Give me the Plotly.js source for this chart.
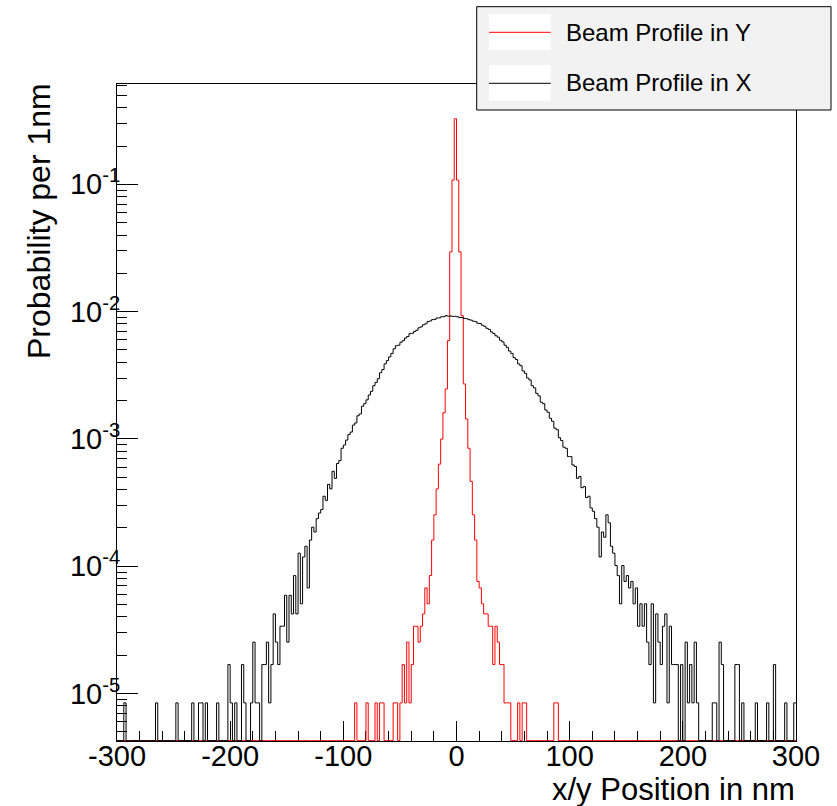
<!DOCTYPE html>
<html>
<head>
<meta charset="utf-8">
<script src="https://cdn.plot.ly/plotly-3.0.1.min.js"></script>
<style>
html,body{margin:0;padding:0;background:#ffffff;}
#chart{width:837px;height:806px;}
</style>
</head>
<body>
<div id="chart"></div>
<script>
// ---------- data ----------
const binLowEdge = -300;   // nm, left edge of the first bin
const binHighEdge = 300;   // nm
const binWidth = 2;        // nm
// counts per 2 nm bin, "Beam Profile in X" (black), from -300 to 300
const xProfileCounts = [
  0,0,0,1,0,0,0,0,0,0,
  0,0,0,0,0,0,0,1,0,0,
  0,0,0,0,0,0,1,0,0,0,
  0,0,0,1,0,0,1,1,0,1,
  0,0,0,0,1,0,0,0,0,2,
  1,0,1,0,0,2,1,0,0,1,
  3,1,1,0,2,2,3,1,2,5,
  3,2,4,4,7,3,7,5,10,5,
  15,6,14,17,8,19,24,22,28,31,
  33,42,39,52,48,66,58,76,80,100,
  106,116,128,134,152,158,180,186,214,224,
  240,262,280,310,329,352,392,415,460,488,
  522,556,604,639,645,680,700,735,755,795,
  800,826,845,884,900,935,950,990,1000,1025,
  1030,1055,1058,1080,1080,1102,1090,1095,1086,1088,
  1078,1062,1064,1046,1044,1024,1015,996,988,960,
  955,925,908,876,858,820,798,765,745,705,
  684,645,620,580,556,515,498,460,445,405,
  388,356,344,310,298,270,258,230,224,200,
  192,172,163,144,140,121,115,102,100,86,
  86,74,72,58,60,49,50,41,42,34,
  32,28,24,14,22,20,30,26,17,15,
  12,10,6,12,9,10,8,9,6,8,
  4,6,4,6,3,2,6,1,5,3,
  2,4,5,1,4,2,2,2,0,2,
  0,3,1,2,1,3,1,0,0,0,
  0,0,0,1,1,0,3,2,0,0,
  0,0,0,2,2,0,1,0,0,0,
  0,0,1,0,0,0,0,1,0,0,
  2,0,0,0,0,1,0,0,0,1
];
// counts per 2 nm bin, "Beam Profile in Y" (red), from -92 to 92 (zero elsewhere)
const yProfileLowEdge = -92;
const yProfileCounts = [
  0,1,0,0,0,0,1,0,0,0,
  1,0,1,1,0,0,0,0,1,1,
  0,1,2,1,3,1,2,4,4,3,
  4,5,8,6,10,19,30,48,75,118,
  190,292,700,3490,12780,38700,12780,3490,1100,320,
  170,100,55,30,19,9,8,6,5,5,
  4,4,2,4,3,2,2,1,1,1,
  0,0,0,1,0,1,1,0,0,0,
  0,0,0,0,0,0,0,0,0,1,
  1,0
];
const probabilityPerCount = 8.45e-6;
const seriesNames = ['Beam Profile in Y', 'Beam Profile in X'];
const seriesColors = ['#ff0000', '#000000'];
const xTickVals = [-300, -200, -100, 0, 100, 200, 300];
const xTickText = ['-300', '-200', '-100', '0', '100', '200', '300'];
const yTickVals = [1e-5, 1e-4, 1e-3, 1e-2, 1e-1];
const yTickText = ['10<sup>-5</sup>', '10<sup>-4</sup>', '10<sup>-3</sup>', '10<sup>-2</sup>', '10<sup>-1</sup>'];
const xTitle = 'x/y Position in nm';
const yTitle = 'Probability per 1nm';

// ---------- layout constants ----------
const W = 837, H = 806;
const M = {l: 117, r: 41, t: 84, b: 65};
const PW = W - M.l - M.r, PH = H - M.t - M.b;
const yLogRange = [-5.3725, -0.2118];
const FONT = '"Liberation Sans", Arial, Helvetica, sans-serif';
const floorVal = Math.pow(10, yLogRange[0] + 0.003);   // empty bins drawn on the frame bottom
const px = v => (v - M.l) / PW;            // pixel x -> paper
const py = v => (H - M.b - v) / PH;        // pixel y -> paper

function fullBins(counts, lowEdge) {
  const n = Math.round((binHighEdge - binLowEdge) / binWidth);
  const offset = Math.round((lowEdge - binLowEdge) / binWidth);
  const out = new Array(n).fill(0);
  counts.forEach((c, i) => { if (offset + i >= 0 && offset + i < n) out[offset + i] = c; });
  return out;
}

function stepTrace(counts, name, color) {
  const xs = [], ys = [];
  for (let i = 0; i < counts.length; i++) {
    xs.push(binLowEdge + i * binWidth);
    ys.push(counts[i] > 0 ? counts[i] * probabilityPerCount : floorVal);
  }
  xs.push(binLowEdge + counts.length * binWidth);
  ys.push(ys[ys.length - 1]);
  return {
    type: 'scatter', mode: 'lines', name: name, x: xs, y: ys,
    line: {shape: 'hv', color: color, width: 1}, hoverinfo: 'skip', showlegend: false
  };
}

const traces = [
  stepTrace(fullBins(yProfileCounts, yProfileLowEdge), seriesNames[0], seriesColors[0]),
  stepTrace(fullBins(xProfileCounts, binLowEdge), seriesNames[1], seriesColors[1])
];

const minorY = [];
for (let e = -6; e <= 0; e++) for (let m = 2; m <= 9; m++) {
  const v = m * Math.pow(10, e);
  const lv = Math.log10(v);
  if (lv > yLogRange[0] && lv < yLogRange[1]) minorY.push(v);
}

const shapes = [
  {type: 'rect', xref: 'paper', yref: 'paper', x0: px(476.7), x1: px(831), y0: py(110), y1: py(6.7),
   fillcolor: '#f2f2f2', line: {color: '#000', width: 1}, layer: 'above'},
  {type: 'rect', xref: 'paper', yref: 'paper', x0: px(489), x1: px(550.7), y0: py(50), y1: py(14),
   fillcolor: '#ffffff', line: {width: 0}, layer: 'above'},
  {type: 'rect', xref: 'paper', yref: 'paper', x0: px(489), x1: px(550.7), y0: py(100.7), y1: py(65),
   fillcolor: '#ffffff', line: {width: 0}, layer: 'above'},
  {type: 'line', xref: 'paper', yref: 'paper', x0: px(489), x1: px(550.7), y0: py(32.3), y1: py(32.3),
   line: {color: seriesColors[0], width: 1}, layer: 'above'},
  {type: 'line', xref: 'paper', yref: 'paper', x0: px(489), x1: px(550.7), y0: py(83.3), y1: py(83.3),
   line: {color: seriesColors[1], width: 1}, layer: 'above'}
];

const annotations = [
  {text: seriesNames[0], xref: 'paper', yref: 'paper', x: px(564), y: py(32), xanchor: 'left', yanchor: 'middle',
   showarrow: false, font: {family: FONT, size: 24, color: '#000'}},
  {text: seriesNames[1], xref: 'paper', yref: 'paper', x: px(564), y: py(83), xanchor: 'left', yanchor: 'middle',
   showarrow: false, font: {family: FONT, size: 24, color: '#000'}},
  {text: xTitle, xref: 'paper', yref: 'paper', x: px(797), y: py(789), xanchor: 'right', yanchor: 'middle',
   showarrow: false, font: {family: FONT, size: 31, color: '#000'}},
  {text: yTitle, xref: 'paper', yref: 'paper', x: px(39), y: py(81), xanchor: 'center', yanchor: 'top', textangle: -90,
   showarrow: false, font: {family: FONT, size: 32, color: '#000'}}
];

const layout = {
  width: W, height: H, margin: M,
  paper_bgcolor: '#ffffff', plot_bgcolor: '#ffffff',
  font: {family: FONT, color: '#000'},
  showlegend: false,
  xaxis: {
    range: [binLowEdge, binHighEdge], tickmode: 'array', tickvals: xTickVals, ticktext: xTickText,
    ticks: 'inside', ticklen: 20, tickwidth: 1, tickcolor: '#000', ticklabelstandoff: -11,
    minor: {tickmode: 'linear', tick0: 0, dtick: 20, ticks: 'inside', ticklen: 10, tickwidth: 1, tickcolor: '#000', showgrid: false},
    showline: true, linecolor: '#000', linewidth: 1, mirror: true, showgrid: false, zeroline: false,
    tickfont: {family: FONT, size: 29, color: '#000'}, layer: 'below traces'
  },
  yaxis: {
    type: 'log', range: yLogRange, tickmode: 'array', tickvals: yTickVals, ticktext: yTickText,
    ticks: 'inside', ticklen: 21, tickwidth: 1, tickcolor: '#000', ticklabelstandoff: -10,
    minor: {tickmode: 'array', tickvals: minorY, ticks: 'inside', ticklen: 10, tickwidth: 1, tickcolor: '#000', showgrid: false},
    showline: true, linecolor: '#000', linewidth: 1, mirror: true, showgrid: false, zeroline: false,
    tickfont: {family: FONT, size: 29, color: '#000'}, layer: 'below traces'
  },
  shapes: shapes,
  annotations: annotations
};

Plotly.newPlot('chart', traces, layout, {displayModeBar: false, staticPlot: true});
</script>
</body>
</html>
